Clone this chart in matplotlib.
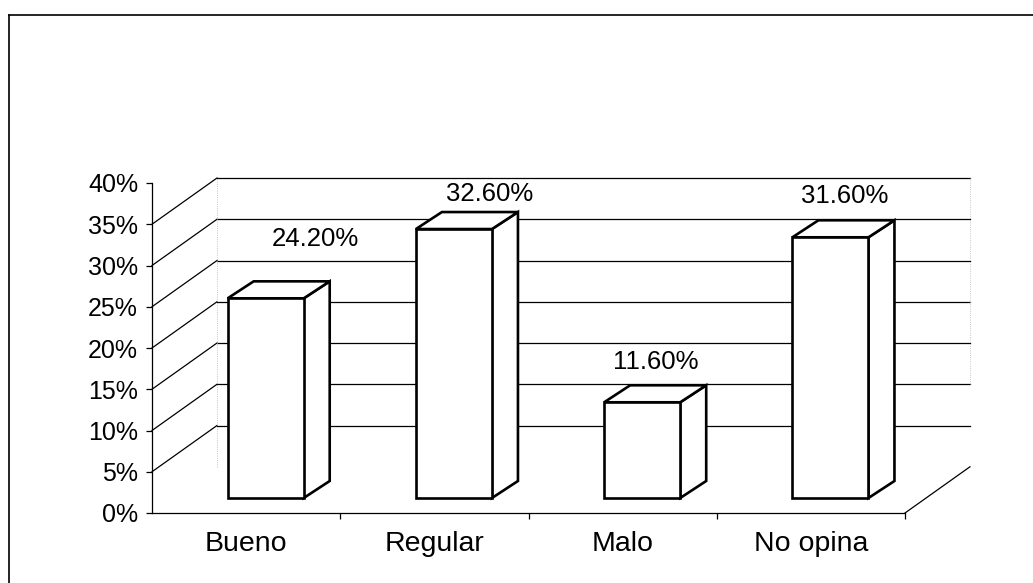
import matplotlib.pyplot as plt
from matplotlib.patches import Polygon
from matplotlib.lines import Line2D

plt.rcParams['font.family'] = ['Liberation Sans', 'DejaVu Sans']

categories = ['Bueno', 'Regular', 'Malo', 'No opina']
values = [24.2, 32.6, 11.6, 31.6]
value_labels = ['24.20%', '32.60%', '11.60%', '31.60%']
y_ticks = [0, 5, 10, 15, 20, 25, 30, 35, 40]
y_tick_labels = ['0%', '5%', '10%', '15%', '20%', '25%', '30%', '35%', '40%']

# label nudges in pixels (right, up) from the top centre of each box
label_nudge = [(37, 51), (23, 27), (1, 32), (1, 33)]

# fake 3d: depth of floor / back wall (data units)
wall_dx, wall_dy = 0.345, 5.6
# boxes: where they stand, width, depth
bar_x0, bar_y0 = 0.104, 1.82
bar_w = 0.404
bar_dx, bar_dy = 0.138, 2.06

fig = plt.figure(figsize=(10.33, 5.83), dpi=100)
ax = fig.add_axes([152 / 1033, 70 / 583, 753 / 1033, 330 / 583])
ax.set_xlim(0, len(categories))
ax.set_ylim(0, 40)
ax.patch.set_visible(False)

n = len(categories)

# back wall gridlines and side wall diagonals
for v in y_ticks[1:-1]:
    ax.plot([wall_dx, n + wall_dx], [v + wall_dy, v + wall_dy], color='k', lw=0.9, clip_on=False, zorder=1)
    ax.plot([0, wall_dx], [v, v + wall_dy], color='k', lw=0.9, clip_on=False, zorder=1)

# right edge of floor
ax.plot([n, n + wall_dx], [0, wall_dy], color='k', lw=0.9, clip_on=False, zorder=1)

# faint edges of the back wall
ax.plot([wall_dx, wall_dx], [wall_dy, 35 + wall_dy], color='0.7', lw=0.6, ls=':', clip_on=False, zorder=1)
ax.plot([n + wall_dx, n + wall_dx], [10 + wall_dy, 35 + wall_dy], color='0.7', lw=0.6, ls=':', clip_on=False, zorder=1)

# boxes
for i, v in enumerate(values):
    x0 = i + 0.5 + bar_x0 - bar_w / 2
    x1 = x0 + bar_w
    y0 = bar_y0
    y1 = bar_y0 + v
    front = [(x0, y0), (x1, y0), (x1, y1), (x0, y1)]
    top = [(x0, y1), (x1, y1), (x1 + bar_dx, y1 + bar_dy), (x0 + bar_dx, y1 + bar_dy)]
    side = [(x1, y0), (x1 + bar_dx, y0 + bar_dy), (x1 + bar_dx, y1 + bar_dy), (x1, y1)]
    for face in (side, top, front):
        ax.add_patch(Polygon(face, closed=True, facecolor='white', edgecolor='k',
                             lw=1.9, joinstyle='miter', clip_on=False, zorder=3))
    nx, ny = label_nudge[i]
    ax.annotate(value_labels[i], (x0 + bar_w / 2 + bar_dx / 2, y1 + bar_dy / 2),
                xytext=(nx * 0.72, ny * 0.72), textcoords='offset points',
                ha='center', va='center', fontsize=18.5, annotation_clip=False, zorder=4)

# axes
for s in ['top', 'right']:
    ax.spines[s].set_visible(False)
for s in ['left', 'bottom']:
    ax.spines[s].set_linewidth(0.9)
    ax.spines[s].set_zorder(2)

ax.set_yticks(y_ticks)
ax.set_yticklabels(y_tick_labels, fontsize=18)
ax.tick_params(axis='y', length=4, width=0.9, pad=6)

ax.set_xticks(range(1, n + 1))
ax.set_xticklabels([])
ax.tick_params(axis='x', which='major', length=4, width=0.9)
ax.set_xticks([i + 0.5 for i in range(n)], minor=True)
ax.set_xticklabels(categories, minor=True, fontsize=20.5)
ax.tick_params(axis='x', which='minor', length=0, pad=13)

# outer frame (top and left only)
fig.add_artist(Line2D([9 / 1033, 1], [1 - 15 / 583, 1 - 15 / 583], transform=fig.transFigure, color='k', lw=1.2))
fig.add_artist(Line2D([9 / 1033, 9 / 1033], [0, 1 - 15 / 583], transform=fig.transFigure, color='k', lw=1.2))

fig.savefig('out.png', dpi=100)
